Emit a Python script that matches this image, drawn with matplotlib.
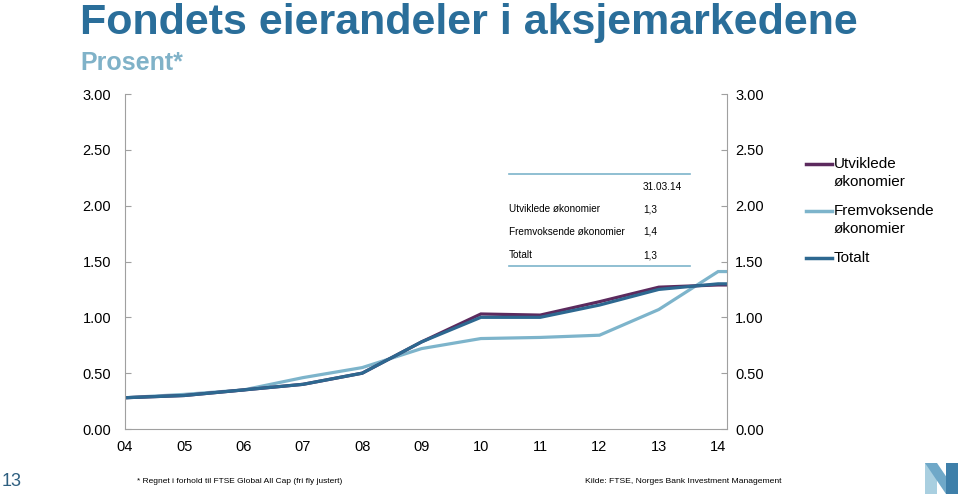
import matplotlib.pyplot as plt
from matplotlib.lines import Line2D
from matplotlib.patches import Polygon

# =========================
# data
# =========================
years = ["04", "05", "06", "07", "08", "09", "10", "11", "12", "13", "14"]
x_pos = [0, 1, 2, 3, 4, 5, 6, 7, 8, 9, 10, 10.15]   # last point = 31.03.14

utviklede = [0.28, 0.30, 0.35, 0.40, 0.50, 0.78, 1.03, 1.02, 1.14, 1.27, 1.29, 1.29]
fremvoksende = [0.28, 0.31, 0.35, 0.46, 0.55, 0.72, 0.81, 0.82, 0.84, 1.07, 1.41, 1.41]
totalt = [0.28, 0.30, 0.35, 0.40, 0.50, 0.78, 1.00, 1.00, 1.11, 1.25, 1.30, 1.30]

table_rows = ["Utviklede økonomier", "Fremvoksende økonomier", "Totalt"]
table_vals = ["1,3", "1,4", "1,3"]
table_date = "31.03.14"

yticks = [0.0, 0.5, 1.0, 1.5, 2.0, 2.5, 3.0]

# =========================
# style
# =========================
c_utv = "#5C2A5E"
c_frem = "#7DB4CB"
c_tot = "#2D6890"
c_title = "#2A6E9A"
c_sub = "#80B2C8"
c_spine = "#A0A0A0"

W, H = 960, 494
plt.rcParams["font.family"] = ["Liberation Sans", "DejaVu Sans"]

fig = plt.figure(figsize=(W / 100, H / 100), dpi=100)


def fx(px):
    return px / W


def fy(py):
    return 1 - py / H


ax = fig.add_axes([fx(125), fy(429), fx(727) - fx(125), fy(94) - fy(429)])

ax.plot(x_pos, fremvoksende, color=c_frem, lw=2.3, solid_joinstyle="miter")
ax.plot(x_pos, utviklede, color=c_utv, lw=2.3, solid_joinstyle="miter")
ax.plot(x_pos, totalt, color=c_tot, lw=2.3, solid_joinstyle="miter")

ax.set_xlim(0, 10.15)
ax.set_ylim(0, 3)
ax.set_xticks(range(len(years)))
ax.set_xticklabels(years, fontsize=10.5)
ax.set_yticks(yticks)
ax.set_yticklabels([f"{v:.2f}" for v in yticks], fontsize=10.5)
ax.tick_params(axis="x", length=0, pad=8)
ax.tick_params(axis="y", direction="in", length=4, color=c_spine, pad=10)

for side in ["left", "right", "bottom"]:
    ax.spines[side].set_color(c_spine)
    ax.spines[side].set_linewidth(0.8)
ax.spines["top"].set_visible(False)

ax2 = ax.twinx()
ax2.set_ylim(0, 3)
ax2.set_yticks(yticks)
ax2.set_yticklabels([f"{v:.2f}" for v in yticks], fontsize=10.5)
ax2.tick_params(axis="y", direction="in", length=4, color=c_spine, pad=6)
for side in ["left", "right", "bottom", "top"]:
    ax2.spines[side].set_visible(False)

# =========================
# title
# =========================
fig.text(fx(80), fy(34), "Fondets eierandeler i aksjemarkedene", fontsize=31,
         fontweight="bold", color=c_title, va="baseline", ha="left")
fig.text(fx(80), fy(70), "Prosent*", fontsize=18, fontweight="bold",
         color=c_sub, va="baseline", ha="left")

# =========================
# small table inside the chart
# =========================
fig.add_artist(Line2D([fx(509), fx(690)], [fy(174), fy(174)], color=c_frem, lw=1.2))
fig.add_artist(Line2D([fx(509), fx(690)], [fy(266), fy(266)], color=c_frem, lw=1.2))
fig.text(fx(643), fy(187), table_date, fontsize=7.2, va="center", ha="left")
for i, (lab, val) in enumerate(zip(table_rows, table_vals)):
    yy = 209 + i * 23
    fig.text(fx(509), fy(yy), lab, fontsize=7.2, va="center", ha="left")
    fig.text(fx(643), fy(yy), val, fontsize=7.2, va="center", ha="left")

# =========================
# legend
# =========================
legend_items = [
    (c_utv, ["Utviklede", "økonomier"], 164),
    (c_frem, ["Fremvoksende", "økonomier"], 211),
    (c_tot, ["Totalt"], 258),
]
for col, lines, ly in legend_items:
    fig.add_artist(Line2D([fx(806), fx(832)], [fy(ly), fy(ly)], color=col, lw=2.5))
    for j, t in enumerate(lines):
        fig.text(fx(834), fy(ly + j * 18), t, fontsize=11, va="center", ha="left")

# =========================
# footer
# =========================
fig.text(fx(2), fy(481), "13", fontsize=13, color="#2E5F80", va="center", ha="left")
fig.text(fx(137), fy(481), "* Regnet i forhold til FTSE Global All Cap (fri fly justert)",
         fontsize=6.0, va="center", ha="left")
fig.text(fx(585), fy(481), "Kilde: FTSE, Norges Bank Investment Management",
         fontsize=6.1, va="center", ha="left")

# N logo
logo_parts = [
    ([(925, 463), (937, 463), (937, 494), (925, 494)], "#A9CFE0"),
    ([(925, 463), (937, 463), (958, 494), (946, 494)], "#6FA8C8"),
    ([(946, 463), (958, 463), (958, 494), (946, 494)], "#3E7FA9"),
]
for pts, col in logo_parts:
    fig.add_artist(Polygon([(fx(a), fy(b)) for a, b in pts], closed=True,
                           facecolor=col, edgecolor="none"))

fig.savefig("out.png", dpi=100)
